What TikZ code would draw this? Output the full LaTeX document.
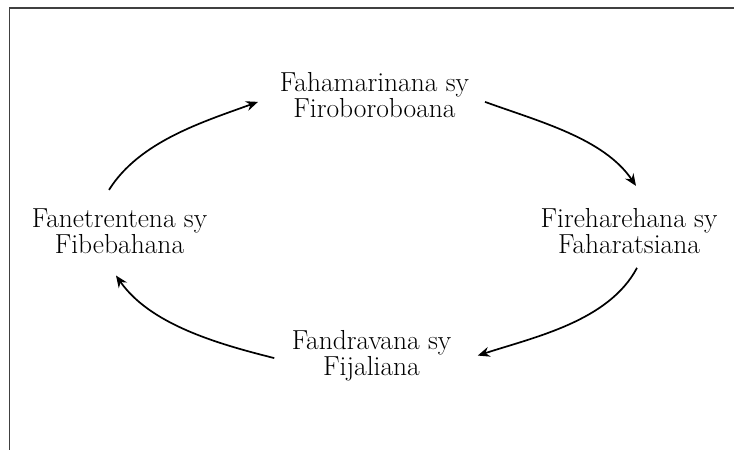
\documentclass[tikz,border=0pt]{standalone}
\usetikzlibrary{arrows.meta}
\begin{document}
\begin{tikzpicture}[x=1pt,y=-1pt,
  lbl/.style={anchor=north,inner sep=0pt,outer sep=0pt,align=center,
    font=\fontsize{27.5}{22.5}\selectfont},
  arr/.style={line width=1.7pt,looseness=0.85,-{Stealth[length=12pt,width=10pt,inset=4pt]}},
  frame/.style={line width=1.4pt,draw=black!75}]
\useasboundingbox (0,0) rectangle (734,450);
\draw[frame] (9.5,451) -- (9.5,8) -- (735,8);
\node[lbl] (top) at (374.5,72.4) {Fahamarinana sy\\Firoboroboana};
\node[lbl] (right) at (629,208.9) {Fireharehana sy\\Faharatsiana};
\node[lbl] (bottom) at (371.5,330.4) {Fandravana sy\\Fijaliana};
\node[lbl] (left) at (119.5,208.9) {Fanetrentena sy\\Fibebahana};
\draw[arr] ([xshift=-10.5pt,yshift=19pt]left.north) to[out=58,in=200] ([xshift=-22pt,yshift=-7pt]top.west);
\draw[arr] ([xshift=16pt,yshift=-7pt]top.east) to[out=-20,in=124] ([xshift=7pt,yshift=23pt]right.north);
\draw[arr] ([xshift=8pt,yshift=-14pt]right.south) to[out=242,in=18] ([xshift=26.5pt]bottom.east);
\draw[arr] ([xshift=-17.5pt,yshift=-2.5pt]bottom.west) to[out=166,in=-55] ([xshift=-3.5pt,yshift=-22pt]left.south);
\end{tikzpicture}
\end{document}
